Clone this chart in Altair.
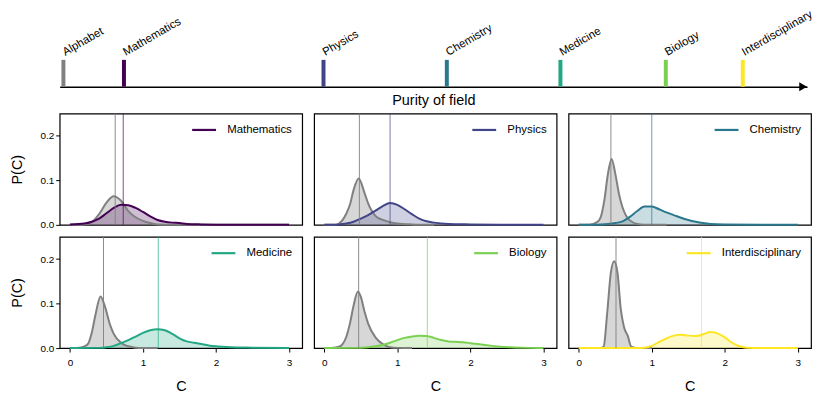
import altair as alt
import pandas as pd

# ---------------- data ----------------
FIELDS = ["Mathematics", "Physics", "Chemistry", "Medicine", "Biology", "Interdisciplinary"]
FIELD_COLORS = ["#440154", "#414487", "#2a788e", "#22a884", "#7ad151", "#fde725"]

TOP_NAMES = ["Alphabet"] + FIELDS
TOP_COLORS = ["#808080"] + FIELD_COLORS
PURITY = [0.005, 0.086, 0.353, 0.518, 0.670, 0.811, 0.914]

# mean C (vertical lines): alphabet baseline per panel, and field
MEAN_ALPHA = [0.62, 0.48, 0.44, 0.46, 0.47, 0.51]
MEAN_FIELD = [0.73, 0.90, 1.00, 1.21, 1.41, 1.68]

C_MATH = [0, 0.2, 0.3, 0.4, 0.5, 0.6, 0.7, 0.8, 0.9, 1.0, 1.1, 1.2, 1.3, 1.4, 1.5, 1.6, 1.8, 2.0, 2.5, 3.0]
P_MATH = [0.001, 0.003, 0.007, 0.014, 0.026, 0.038, 0.045, 0.044, 0.038, 0.029, 0.019, 0.011, 0.007, 0.005, 0.004, 0.002, 0.001, 0.0005, 0.0002, 0.0]
C_G1 = [0, 0.2, 0.3, 0.4, 0.5, 0.6, 0.7, 0.8, 0.9, 1.0, 1.1, 1.2, 1.4, 3.0]
P_G1 = [0, 0.001, 0.006, 0.024, 0.050, 0.064, 0.054, 0.031, 0.017, 0.009, 0.004, 0.001, 0, 0]

C_PHYS = [0, 0.2, 0.3, 0.4, 0.5, 0.6, 0.7, 0.8, 0.9, 1.0, 1.1, 1.2, 1.3, 1.4, 1.5, 1.7, 2.0, 2.5, 3.0]
P_PHYS = [0, 0.001, 0.003, 0.007, 0.014, 0.022, 0.032, 0.042, 0.049, 0.045, 0.035, 0.024, 0.014, 0.008, 0.005, 0.002, 0.001, 0.0003, 0]
C_G2 = [0, 0.15, 0.2, 0.3, 0.35, 0.4, 0.47, 0.55, 0.6, 0.7, 0.8, 0.9, 1.0, 1.2, 1.5]
P_G2 = [0, 0.0005, 0.003, 0.025, 0.045, 0.078, 0.104, 0.072, 0.048, 0.020, 0.011, 0.006, 0.003, 0.001, 0]

C_CHEM = [0, 0.3, 0.4, 0.5, 0.6, 0.7, 0.8, 0.9, 1.0, 1.1, 1.2, 1.3, 1.4, 1.5, 1.6, 1.7, 1.8, 2.0, 2.5, 3.0]
P_CHEM = [0, 0.001, 0.002, 0.004, 0.008, 0.018, 0.031, 0.041, 0.041, 0.035, 0.028, 0.022, 0.016, 0.011, 0.007, 0.004, 0.002, 0.0007, 0.0001, 0]
C_G3 = [0, 0.15, 0.25, 0.3, 0.35, 0.4, 0.45, 0.5, 0.55, 0.6, 0.65, 0.7, 0.8, 0.9, 1.2]
P_G3 = [0, 0.0005, 0.006, 0.017, 0.055, 0.115, 0.148, 0.115, 0.070, 0.039, 0.020, 0.010, 0.002, 0.0005, 0]

C_MED = [0, 0.4, 0.5, 0.6, 0.7, 0.8, 0.9, 1.0, 1.1, 1.2, 1.3, 1.4, 1.5, 1.6, 1.7, 1.8, 1.9, 2.0, 2.2, 2.5, 3.0]
P_MED = [0, 0.0005, 0.002, 0.005, 0.011, 0.018, 0.026, 0.034, 0.040, 0.0425, 0.040, 0.032, 0.022, 0.015, 0.012, 0.009, 0.006, 0.004, 0.002, 0.001, 0]
C_G4 = [0, 0.1, 0.2, 0.25, 0.3, 0.35, 0.42, 0.48, 0.55, 0.6, 0.7, 0.8, 0.9, 1.0, 1.2]
P_G4 = [0, 0.0005, 0.004, 0.010, 0.035, 0.075, 0.116, 0.093, 0.052, 0.032, 0.012, 0.004, 0.001, 0.0003, 0]

C_BIO = [0, 0.4, 0.5, 0.6, 0.7, 0.8, 0.9, 1.0, 1.1, 1.2, 1.3, 1.4, 1.5, 1.6, 1.7, 1.8, 1.9, 2.0, 2.1, 2.2, 2.3, 2.4, 2.6, 2.8, 3.0]
P_BIO = [0, 0.0005, 0.001, 0.002, 0.004, 0.007, 0.012, 0.018, 0.023, 0.026, 0.0276, 0.027, 0.023, 0.018, 0.015, 0.014, 0.013, 0.011, 0.009, 0.007, 0.005, 0.003, 0.0015, 0.0005, 0]
C_G5 = [0, 0.1, 0.2, 0.25, 0.3, 0.35, 0.4, 0.46, 0.5, 0.55, 0.6, 0.7, 0.8, 0.9, 1.0, 1.2]
P_G5 = [0, 0.0005, 0.003, 0.009, 0.025, 0.055, 0.095, 0.127, 0.115, 0.082, 0.055, 0.024, 0.009, 0.002, 0.0005, 0]

C_INTER = [0, 0.8, 0.9, 1.0, 1.1, 1.2, 1.3, 1.4, 1.5, 1.6, 1.7, 1.8, 1.9, 2.0, 2.1, 2.2, 2.3, 2.5, 3.0]
P_INTER = [0, 0, 0.001, 0.005, 0.014, 0.022, 0.028, 0.030, 0.028, 0.027, 0.031, 0.036, 0.033, 0.024, 0.012, 0.004, 0.001, 0, 0]
C_G6 = [0, 0.3, 0.34, 0.39, 0.44, 0.485, 0.53, 0.575, 0.62, 0.67, 0.72, 0.8, 1.0]
P_G6 = [0, 0, 0.003, 0.08, 0.17, 0.195, 0.17, 0.088, 0.047, 0.028, 0.003, 0, 0]

C_FIELD = [C_MATH, C_PHYS, C_CHEM, C_MED, C_BIO, C_INTER]
P_FIELD = [P_MATH, P_PHYS, P_CHEM, P_MED, P_BIO, P_INTER]
C_GRAY = [C_G1, C_G2, C_G3, C_G4, C_G5, C_G6]
P_GRAY = [P_G1, P_G2, P_G3, P_G4, P_G5, P_G6]

# ---------------- style ----------------
FONT = "Liberation Sans"
PW, PH = 244, 112
LEG_FS = 11.5
# approximate label widths (px) used to right-align the in-panel legends
LABEL_W = {"Mathematics": 65.5, "Physics": 39.6, "Chemistry": 51.8, "Medicine": 46.0,
           "Biology": 37.8, "Interdisciplinary": 79.8}


def panel(i, show_x, show_y):
    field, col = FIELDS[i], FIELD_COLORS[i]
    df_f = pd.DataFrame({"C": C_FIELD[i], "P": P_FIELD[i], "field": field})
    df_g = pd.DataFrame({"C": C_GRAY[i], "P": P_GRAY[i]})
    df_m = pd.DataFrame({"C": [MEAN_ALPHA[i], MEAN_FIELD[i]], "kind": ["alpha", "field"]})

    xs = alt.Scale(domain=[-0.14, 3.18], nice=False, zero=False)
    ys = alt.Scale(domain=[0, 0.25], nice=False)
    if show_x:
        xax = alt.Axis(values=[0, 1, 2, 3], format="d", title="C", grid=False, domain=False,
                       tickSize=4, tickColor="black", labelColor="black", labelFontSize=10,
                       labelPadding=6, titleFontSize=14.5, titleFontWeight="normal",
                       titleColor="black", titlePadding=12)
    else:
        xax = None
    if show_y:
        yax = alt.Axis(values=[0, 0.1, 0.2], format=".1f", title="P(C)", grid=False, domain=False,
                       tickSize=4, tickColor="black", labelColor="black", labelFontSize=10,
                       labelPadding=2, titleFontSize=14.5, titleFontWeight="normal",
                       titleColor="black", titlePadding=16)
    else:
        yax = None

    x = alt.X("C:Q", scale=xs, axis=xax)
    y = alt.Y("P:Q", scale=ys, axis=yax)

    g_area = alt.Chart(df_g).mark_area(color="#8c8c8c", opacity=0.35, interpolate="monotone").encode(x=x, y=y)
    g_line = alt.Chart(df_g).mark_line(color="#808080", strokeWidth=2, interpolate="monotone").encode(x=x, y=y)
    f_area = alt.Chart(df_f).mark_area(color=col, opacity=0.25, interpolate="monotone").encode(x=x, y=y)
    leg_x = 231 - LABEL_W[field] - 9.7 - 24
    f_line = alt.Chart(df_f).mark_line(strokeWidth=2, interpolate="monotone").encode(
        x=x, y=y,
        color=alt.Color("field:N", scale=alt.Scale(domain=[field], range=[col]),
                        legend=alt.Legend(title=None, orient="none", legendX=leg_x, legendY=3, padding=0,
                                          symbolType="stroke", symbolSize=576, symbolStrokeWidth=2.2,
                                          labelFontSize=LEG_FS, labelColor="black", labelOffset=9.7,
                                          labelFont=FONT)))
    rules = alt.Chart(df_m).mark_rule(strokeWidth=1).encode(
        x=x,
        color=alt.Color("kind:N", scale=alt.Scale(domain=["alpha", "field"], range=["#808080", col]), legend=None),
        opacity=alt.Opacity("kind:N", scale=alt.Scale(domain=["alpha", "field"], range=[0.9, 0.7]), legend=None),
    )
    return alt.layer(g_area, f_area, g_line, f_line, rules).resolve_scale(color="independent", opacity="independent").properties(
        width=PW, height=PH)


# ---------------- top strip ----------------
TOP_W, TOP_H = 752, 40
top_df = pd.DataFrame({"name": TOP_NAMES, "purity": PURITY})
xs_top = alt.Scale(domain=[0, 1], nice=False, zero=False)
x_top = alt.X("purity:Q", scale=xs_top,
              axis=alt.Axis(title="Purity of field", labels=False, ticks=False, grid=False,
                            domain=True, domainColor="black", domainWidth=1.5,
                            titleFontSize=14.5, titleFontWeight="normal", titleColor="black",
                            titlePadding=7))
ticks = alt.Chart(top_df).mark_rule(strokeWidth=4).encode(
    x=x_top, y=alt.value(TOP_H), y2=alt.value(TOP_H - 27),
    color=alt.Color("name:N", scale=alt.Scale(domain=TOP_NAMES, range=TOP_COLORS), legend=None))
labels = alt.Chart(top_df).mark_text(angle=330, align="left", baseline="alphabetic", dx=2,
                                     fontSize=11.5, color="black", font=FONT).encode(
    x=alt.X("purity:Q", scale=xs_top), y=alt.value(TOP_H - 30), text="name:N")
arrow = alt.Chart(top_df.head(1)).mark_point(shape="triangle-right", filled=True, size=80,
                                            color="black", opacity=1).encode(
    x=alt.value(TOP_W - 4), y=alt.value(TOP_H))
top = alt.layer(ticks, labels, arrow).properties(
    width=TOP_W, height=TOP_H, view=alt.ViewBackground(strokeWidth=0))

row1 = alt.hconcat(panel(0, False, True), panel(1, False, False), panel(2, False, False), spacing=10)
row2 = alt.hconcat(panel(3, True, True), panel(4, True, False), panel(5, True, False), spacing=10)
grid = alt.vconcat(row1, row2, spacing=4).resolve_scale(color="independent", opacity="independent")

chart = alt.vconcat(top, grid, spacing=4).resolve_scale(color="independent", opacity="independent").properties(
    padding={"left": 0, "top": -1, "right": 0, "bottom": 0}
).configure(font=FONT).configure_view(stroke="black", strokeWidth=1.2)

chart.save("out.html", embed_options={"renderer": "svg", "actions": False})
